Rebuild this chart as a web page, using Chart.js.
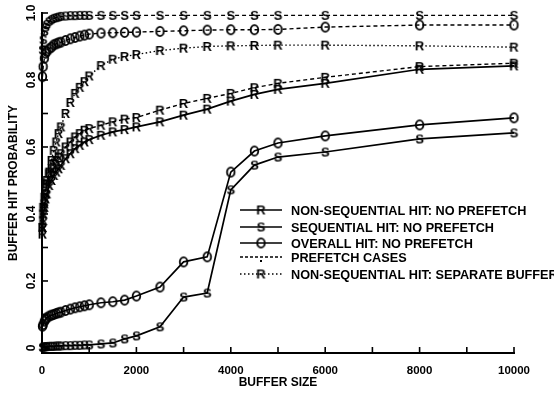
<!DOCTYPE html>
<html>
<head>
<meta charset="utf-8">
<script src="https://cdn.jsdelivr.net/npm/chart.js@4.4.1/dist/chart.umd.min.js"></script>
<style>
  html, body { margin: 0; padding: 0; background: #fff; }
  #wrap { width: 554px; height: 395px; }
</style>
</head>
<body>
<div id="wrap"><canvas id="canvas"></canvas></div>
<script>
// buffer sizes used in the runs
var bufferSizes = [10, 25, 50, 75, 100, 150, 200, 250, 300, 350, 400, 500, 600, 700, 800, 900,
    1000, 1250, 1500, 1750, 2000, 2500, 3000, 3500, 4000, 4500, 5000, 6000, 8000, 10000];

// no prefetch
var nonSeqNoPrefetch = [0.34, 0.38, 0.42, 0.445, 0.46, 0.485, 0.5, 0.515, 0.525, 0.535, 0.545, 0.565, 0.58, 0.595, 0.605, 0.615,
    0.622, 0.635, 0.645, 0.652, 0.66, 0.675, 0.695, 0.713, 0.737, 0.757, 0.772, 0.79, 0.832, 0.842];
var seqNoPrefetch = [0.002, 0.003, 0.003, 0.004, 0.004, 0.005, 0.005, 0.005, 0.006, 0.006, 0.006, 0.007, 0.007, 0.008, 0.008, 0.009,
    0.009, 0.012, 0.015, 0.027, 0.036, 0.063, 0.152, 0.164, 0.472, 0.546, 0.57, 0.585, 0.624, 0.642];
var overallNoPrefetch = [0.065, 0.07, 0.08, 0.085, 0.09, 0.095, 0.098, 0.1, 0.103, 0.105, 0.107, 0.112, 0.116, 0.12, 0.123, 0.126,
    0.129, 0.135, 0.138, 0.143, 0.155, 0.182, 0.257, 0.272, 0.525, 0.588, 0.612, 0.633, 0.666, 0.687];

// prefetch cases
var nonSeqPrefetch = [0.36, 0.42, 0.45, 0.48, 0.5, 0.52, 0.535, 0.55, 0.56, 0.57, 0.58, 0.6, 0.615, 0.63, 0.64, 0.65,
    0.655, 0.665, 0.675, 0.683, 0.688, 0.71, 0.73, 0.745, 0.76, 0.777, 0.79, 0.808, 0.84, 0.85];
var seqPrefetch = [0.89, 0.92, 0.945, 0.958, 0.966, 0.975, 0.98, 0.984, 0.986, 0.988, 0.99, 0.991, 0.992, 0.992, 0.993, 0.993,
    0.993, 0.993, 0.993, 0.993, 0.993, 0.993, 0.993, 0.993, 0.993, 0.993, 0.993, 0.993, 0.993, 0.993];
var overallPrefetch = [0.81, 0.84, 0.865, 0.88, 0.885, 0.893, 0.898, 0.905, 0.908, 0.911, 0.913, 0.918, 0.923, 0.927, 0.931, 0.934,
    0.937, 0.94, 0.941, 0.942, 0.943, 0.945, 0.947, 0.949, 0.95, 0.95, 0.951, 0.958, 0.964, 0.964];

// separate buffer
var nonSeqSeparate = [0.36, 0.4, 0.43, 0.46, 0.49, 0.525, 0.56, 0.59, 0.615, 0.64, 0.66, 0.7, 0.733, 0.76, 0.778, 0.795,
    0.812, 0.843, 0.862, 0.87, 0.876, 0.888, 0.895, 0.9, 0.902, 0.903, 0.904, 0.904, 0.902, 0.898];

var xTickValues = [0, 1000, 2000, 3000, 4000, 5000, 6000, 7000, 8000, 9000, 10000];
var yTickValues = [0, 0.1, 0.2, 0.3, 0.4, 0.5, 0.6, 0.7, 0.8, 0.9, 1.0];
var yTickLabels = { '0': '0', '0.2': '0.2', '0.4': '0.4', '0.6': '0.6', '0.8': '0.8', '1': '1.0' };

var legendLabels = [
    'NON-SEQUENTIAL HIT: NO PREFETCH',
    'SEQUENTIAL HIT: NO PREFETCH',
    'OVERALL HIT: NO PREFETCH',
    'PREFETCH CASES',
    'NON-SEQUENTIAL HIT: SEPARATE BUFFER'
];

var FONT = '"Liberation Sans", Arial, sans-serif';

// plotter style letter markers
function letterMark(ch) {
    var c = document.createElement('canvas');
    c.width = 13;
    c.height = 15;
    var g = c.getContext('2d');
    g.fillStyle = '#000';
    g.strokeStyle = '#000';
    if (ch === 'O') {
        g.lineWidth = 1.8;
        g.beginPath();
        g.ellipse(6.5, 7.5, 3.8, 4.6, 0, 0, Math.PI * 2);
        g.stroke();
    } else {
        g.font = 'bold 13px ' + FONT;
        g.textAlign = 'center';
        g.textBaseline = 'middle';
        g.fillText(ch, 6.5, 8);
    }
    return c;
}
var markR = letterMark('R');
var markS = letterMark('S');
var markO = letterMark('O');

function pairs(values) {
    return bufferSizes.map(function (s, i) { return { x: s, y: values[i] }; });
}

function series(label, values, mark, dash) {
    return {
        label: label,
        data: pairs(values),
        borderColor: '#000',
        backgroundColor: '#000',
        borderWidth: dash.length ? 1.4 : 1.7,
        borderDash: dash,
        pointStyle: mark,
        pointRadius: 3,
        tension: 0,
        clip: 10
    };
}

// inward tick marks, rotated y labels and the key
var axisMarks = {
    id: 'axisMarks',
    afterDraw: function (chart) {
        var ctx = chart.ctx;
        var xs = chart.scales.x, ys = chart.scales.y;
        var area = chart.chartArea;
        ctx.save();
        ctx.strokeStyle = '#000';
        ctx.fillStyle = '#000';
        ctx.lineWidth = 1.6;
        xs.ticks.forEach(function (t) {
            var px = xs.getPixelForValue(t.value);
            ctx.beginPath();
            ctx.moveTo(px, area.bottom);
            ctx.lineTo(px, area.bottom - 6);
            ctx.stroke();
        });
        ctx.font = 'bold 12px ' + FONT;
        ys.ticks.forEach(function (t) {
            var py = ys.getPixelForValue(t.value);
            ctx.beginPath();
            ctx.moveTo(area.left, py);
            ctx.lineTo(area.left + 6, py);
            ctx.stroke();
            var key = String(Math.round(t.value * 10) / 10);
            if (yTickLabels[key]) {
                ctx.save();
                ctx.translate(32, py);
                ctx.rotate(-Math.PI / 2);
                ctx.textAlign = 'center';
                ctx.textBaseline = 'middle';
                ctx.fillText(yTickLabels[key], 0, 0);
                ctx.restore();
            }
        });

        // key
        var kx = 240, kw = 42, ky = [210, 227, 243, 257, 274];
        var marks = [markR, markS, markO, null, markR];
        var dashes = [[], [], [], [3, 2], [1.5, 2.5]];
        ctx.font = 'bold 12.7px ' + FONT;
        ctx.textAlign = 'left';
        ctx.textBaseline = 'middle';
        legendLabels.forEach(function (label, i) {
            ctx.setLineDash(dashes[i]);
            ctx.lineWidth = dashes[i].length ? 1.4 : 1.7;
            ctx.beginPath();
            ctx.moveTo(kx, ky[i]);
            ctx.lineTo(kx + kw, ky[i]);
            ctx.stroke();
            ctx.setLineDash([]);
            if (marks[i]) {
                ctx.drawImage(marks[i], kx + kw / 2 - marks[i].width / 2, ky[i] - marks[i].height / 2);
            } else {
                ctx.fillRect(kx + kw / 2 - 1, ky[i] + 3, 2, 2);
            }
            ctx.fillText(label, kx + kw + 9, ky[i] + 1);
        });
        ctx.restore();
    }
};

Chart.defaults.font.family = FONT;
Chart.defaults.color = '#000';

var chart = new Chart(document.getElementById('canvas').getContext('2d'), {
    type: 'line',
    data: {
        datasets: [
            series('nonSeqNoPrefetch', nonSeqNoPrefetch, markR, []),
            series('seqNoPrefetch', seqNoPrefetch, markS, []),
            series('overallNoPrefetch', overallNoPrefetch, markO, []),
            series('nonSeqPrefetch', nonSeqPrefetch, markR, [4, 3]),
            series('seqPrefetch', seqPrefetch, markS, [4, 3]),
            series('overallPrefetch', overallPrefetch, markO, [4, 3]),
            series('nonSeqSeparate', nonSeqSeparate, markR, [1.5, 2.5])
        ]
    },
    options: {
        responsive: true,
        maintainAspectRatio: false,
        animation: false,
        layout: { padding: { top: 13, right: 40, bottom: 0, left: 0 } },
        plugins: {
            legend: { display: false },
            tooltip: { enabled: false }
        },
        scales: {
            x: {
                type: 'linear',
                min: 0,
                max: 10000,
                afterBuildTicks: function (scale) {
                    scale.ticks = xTickValues.map(function (v) { return { value: v }; });
                },
                afterFit: function (scale) { scale.height = 42; },
                grid: { display: false },
                border: { display: true, color: '#000', width: 2 },
                ticks: {
                    padding: 3,
                    maxRotation: 0,
                    autoSkip: false,
                    font: { size: 11.5, weight: 'bold' },
                    callback: function (v) { return v % 2000 === 0 ? String(v) : ''; }
                },
                title: {
                    display: true,
                    text: 'BUFFER SIZE',
                    font: { size: 12, weight: 'bold' },
                    padding: { top: 0, bottom: 5 }
                }
            },
            y: {
                type: 'linear',
                min: -0.015,
                max: 1.0,
                afterBuildTicks: function (scale) {
                    scale.ticks = yTickValues.map(function (v) { return { value: v }; });
                },
                afterFit: function (scale) { scale.width = 42; },
                grid: { display: false },
                border: { display: true, color: '#000', width: 2 },
                ticks: { display: false },
                title: {
                    display: true,
                    text: 'BUFFER HIT PROBABILITY',
                    font: { size: 12, weight: 'bold' },
                    padding: { top: 6, bottom: 0 }
                }
            }
        }
    },
    plugins: [axisMarks]
});
</script>
</body>
</html>
